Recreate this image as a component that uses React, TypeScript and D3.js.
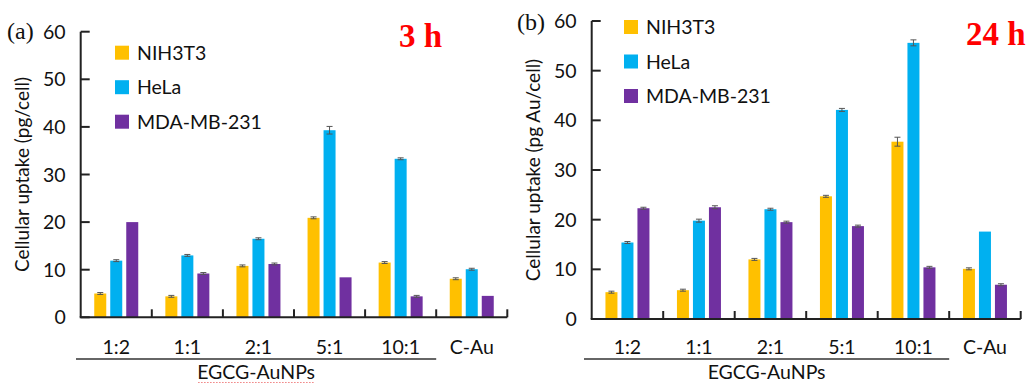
import React from "react";
import * as d3 from "d3";

const categories = ["1:2", "1:1", "2:1", "5:1", "10:1", "C-Au"];
const series = ["NIH3T3", "HeLa", "MDA-MB-231"];
const colors = ["#FFC000", "#00B0F0", "#7030A0"];
const yTicks = [0, 10, 20, 30, 40, 50, 60];

// 3 h
const nih3h = [5.0, 4.4, 10.8, 20.9, 11.5, 8.1];
const hela3h = [11.9, 13.0, 16.5, 39.3, 33.3, 10.1];
const mda3h = [20.0, 9.2, 11.2, 8.4, 4.4, 4.5];
const nih3hErr = [0.2, 0.2, 0.2, 0.2, 0.2, 0.2];
const hela3hErr = [0.2, 0.2, 0.2, 0.8, 0.2, 0.2];
const mda3hErr = [0, 0.2, 0.2, 0, 0.2, 0];

// 24 h
const nih24h = [5.4, 5.8, 12.0, 24.7, 35.7, 10.1];
const hela24h = [15.4, 19.8, 22.1, 42.1, 55.6, 17.6];
const mda24h = [22.3, 22.5, 19.5, 18.7, 10.4, 6.9];
const nih24hErr = [0.2, 0.2, 0.2, 0.2, 0.9, 0.2];
const hela24hErr = [0.2, 0.3, 0.2, 0.3, 0.6, 0];
const mda24hErr = [0.2, 0.3, 0.2, 0.2, 0.2, 0.2];

const font = "Lato, 'Open Sans', sans-serif";
const serif = "'Liberation Serif', 'DejaVu Serif', serif";
const ink = "#111";

type PanelProps = {
  values: number[][];
  errors: number[][];
  x0: number;
  x1: number;
  y0: number;
  y60: number;
  tag: string;
  tagX: number;
  tagY: number;
  time: string;
  timeX: number;
  timeY: number;
  yLabel: string;
  yLabelX: number;
  yLabelY: number;
  legendX: number;
  legendY: number;
  groupX0: number;
  squiggle?: boolean;
};

const Panel = (p: PanelProps) => {
  const x = d3.scaleBand<string>().domain(categories).range([p.x0, p.x1]);
  const bw = x.bandwidth();
  const inner = d3
    .scaleBand<string>()
    .domain(series)
    .range([bw / 2 - 22, bw / 2 + 22])
    .paddingInner(0.25);
  const y = d3.scaleLinear().domain([0, 60]).range([p.y0, p.y60]);
  const groupEnd = x("10:1")! + bw;
  const groupMid = (p.groupX0 + groupEnd) / 2;

  return (
    <g>
      {/* bars + error bars */}
      {series.map((s, si) =>
        categories.map((c, ci) => {
          const v = p.values[si][ci];
          const e = p.errors[si][ci];
          const bx = x(c)! + inner(s)!;
          const cx = bx + inner.bandwidth() / 2;
          return (
            <g key={s + c}>
              <rect
                x={bx}
                y={y(v)}
                width={inner.bandwidth()}
                height={y(0) - y(v)}
                fill={colors[si]}
              />
              {e > 0 && (
                <g stroke="#555" strokeWidth={1}>
                  <line x1={cx} x2={cx} y1={y(v + e)} y2={y(v - e)} />
                  <line x1={cx - 3} x2={cx + 3} y1={y(v + e)} y2={y(v + e)} />
                  <line x1={cx - 3} x2={cx + 3} y1={y(v - e)} y2={y(v - e)} />
                </g>
              )}
            </g>
          );
        })
      )}

      {/* axes */}
      <g stroke="#222" strokeWidth={2} fill="none">
        <line x1={p.x0} x2={p.x0} y1={y(60)} y2={y(0)} />
        <line x1={p.x0 - 1} x2={p.x1} y1={y(0)} y2={y(0)} />
        {yTicks.map((t) => (
          <line key={t} x1={p.x0} x2={p.x0 + 9} y1={y(t)} y2={y(t)} />
        ))}
        {categories.map((c) => (
          <line key={c} x1={x(c)! + bw} x2={x(c)! + bw} y1={y(0)} y2={y(0) - 8} />
        ))}
      </g>
      {yTicks.map((t) => (
        <text
          key={t}
          x={p.x0 - 15}
          y={y(t)}
          dy="0.36em"
          textAnchor="end"
          fontSize={19.5}
          fontFamily={font}
          fill={ink}
        >
          {t}
        </text>
      ))}
      {categories.map((c) => (
        <text
          key={c}
          x={x(c)! + bw / 2}
          y={354}
          textAnchor="middle"
          fontSize={19.5}
          fontFamily={font}
          fill={ink}
        >
          {c}
        </text>
      ))}
      <line x1={p.groupX0} x2={groupEnd} y1={359} y2={359} stroke="#666" strokeWidth={2} />
      <text x={groupMid} y={379} textAnchor="middle" fontSize={19.5} fontFamily={font} fill={ink}>
        EGCG-AuNPs
      </text>
      {p.squiggle && (
        <line
          x1={groupMid - 58}
          x2={groupMid + 58}
          y1={382.5}
          y2={382.5}
          stroke="#f08080"
          strokeWidth={1}
          strokeDasharray="1.5 1.5"
        />
      )}

      {/* y label */}
      <text
        transform={`translate(${p.yLabelX},${p.yLabelY}) rotate(-90)`}
        textAnchor="middle"
        dy="0.35em"
        fontSize={19}
        fontFamily={font}
        fill={ink}
      >
        {p.yLabel}
      </text>

      {/* legend */}
      {series.map((s, si) => (
        <g key={s} transform={`translate(${p.legendX},${p.legendY + si * 34.5})`}>
          <rect x={0} y={0} width={14} height={14} fill={colors[si]} />
          <text x={22} y={7} dy="0.36em" fontSize={19.5} fontFamily={font} fill={ink}>
            {s}
          </text>
        </g>
      ))}

      <text x={p.tagX} y={p.tagY} fontSize={24} fontFamily={serif} fill={ink}>
        {p.tag}
      </text>
      <text x={p.timeX} y={p.timeY} fontSize={33} fontWeight="bold" fontFamily={serif} fill="#FF0000">
        {p.time}
      </text>
    </g>
  );
};

const App = () => {
  return (
    <svg
      width={1035}
      height={383}
      viewBox="0 0 1035 383"
      style={{ position: "absolute", left: 0, top: 0, background: "#fff" }}
    >
      <Panel
        values={[nih3h, hela3h, mda3h]}
        errors={[nih3hErr, hela3hErr, mda3hErr]}
        x0={80.7}
        x1={507.3}
        y0={317.3}
        y60={31.7}
        tag="(a)"
        tagX={7}
        tagY={39}
        time="3 h"
        timeX={399}
        timeY={47}
        yLabel="Cellular uptake (pg/cell)"
        yLabelX={22.7}
        yLabelY={174.5}
        legendX={115}
        legendY={45.7}
        groupX0={76}
        squiggle
      />
      <Panel
        values={[nih24h, hela24h, mda24h]}
        errors={[nih24hErr, hela24hErr, mda24hErr]}
        x0={591.7}
        x1={1020.7}
        y0={319}
        y60={21}
        tag="(b)"
        tagX={517}
        tagY={30}
        time="24 h"
        timeX={966}
        timeY={45}
        yLabel="Cellular uptake (pg Au/cell)"
        yLabelX={533.3}
        yLabelY={170}
        legendX={624}
        legendY={20}
        groupX0={584}
      />
    </svg>
  );
};

export default App;
